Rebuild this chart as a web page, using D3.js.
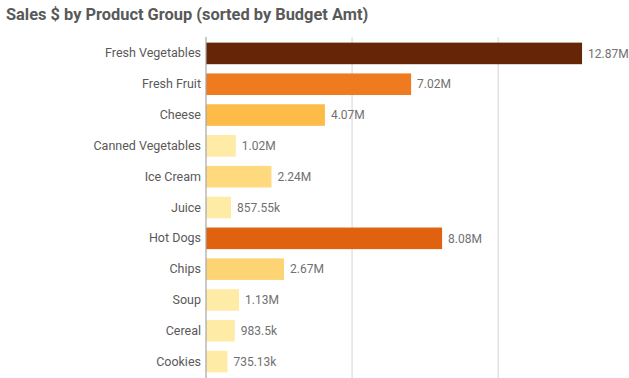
<!DOCTYPE html>
<html>
<head>
<meta charset="utf-8">
<script src="https://cdn.jsdelivr.net/npm/d3@7"></script>
<style>
  body { margin: 0; background: #fff; }
  text { font-family: Roboto, "Open Sans", sans-serif; }
</style>
</head>
<body>
<svg id="chart"></svg>
<script>
// Product groups, in display order (sorted by budget amount)
const categories = ['Fresh Vegetables', 'Fresh Fruit', 'Cheese', 'Canned Vegetables', 'Ice Cream',
  'Juice', 'Hot Dogs', 'Chips', 'Soup', 'Cereal', 'Cookies'];
const sales = [12870000, 7020000, 4070000, 1020000, 2240000, 857550, 8080000, 2670000, 1130000, 983500, 735130];
const valueLabels = ['12.87M', '7.02M', '4.07M', '1.02M', '2.24M', '857.55k', '8.08M', '2.67M', '1.13M', '983.5k', '735.13k'];
const barColors = ['#662506', '#ee7b1f', '#fdbb48', '#feeba5', '#fed97e', '#feeba5', '#e0620e', '#fdd474', '#feeba5', '#feeba5', '#feeba5'];
const gridTicks = [5000000, 10000000];

const width = 629, height = 378;
const margin = {top: 37, right: 0, bottom: 0, left: 206};

const svg = d3.select('#chart')
    .attr('width', width)
    .attr('height', height);

// Title
svg.append('text')
    .attr('x', 6)
    .attr('y', 20)
    .attr('fill', '#595959')
    .attr('font-size', 16.4)
    .attr('font-weight', 'bold')
    .text('Sales $ by Product Group (sorted by Budget Amt)');

const xScale = d3.scaleLinear()
    .domain([0, 14600000])
    .range([margin.left, margin.left + 426.6]);

const yScale = d3.scaleBand()
    .domain(categories)
    .range([38, 377])
    .paddingInner(0.3)
    .paddingOuter(0.15);

// Gridlines
svg.append('g')
  .selectAll('line')
  .data(gridTicks)
  .join('line')
    .attr('x1', d => xScale(d))
    .attr('x2', d => xScale(d))
    .attr('y1', margin.top)
    .attr('y2', height)
    .attr('stroke', '#e3e3e3')
    .attr('stroke-width', 1.5);

// Bars
svg.append('g')
  .selectAll('rect')
  .data(categories)
  .join('rect')
    .attr('x', xScale(0))
    .attr('y', d => yScale(d))
    .attr('width', (d, i) => xScale(sales[i]) - xScale(0))
    .attr('height', yScale.bandwidth())
    .attr('fill', (d, i) => barColors[i]);

// Value labels
svg.append('g')
  .selectAll('text')
  .data(categories)
  .join('text')
    .attr('x', (d, i) => xScale(sales[i]) + 6)
    .attr('y', d => yScale(d) + yScale.bandwidth() / 2)
    .attr('dy', '0.35em')
    .attr('fill', '#707070')
    .attr('font-size', 12)
    .text((d, i) => valueLabels[i]);

// Category axis
const yAxis = d3.axisLeft(yScale).tickSize(0).tickPadding(5);
const yAxisG = svg.append('g')
    .attr('transform', `translate(${margin.left},0)`)
    .call(yAxis);
yAxisG.select('.domain').remove();
yAxisG.selectAll('text')
    .attr('fill', '#595959')
    .attr('font-size', 12.5);

svg.append('line')
    .attr('x1', margin.left)
    .attr('x2', margin.left)
    .attr('y1', margin.top)
    .attr('y2', height)
    .attr('stroke', '#a6a6a6')
    .attr('stroke-width', 1.2);
</script>
</body>
</html>
